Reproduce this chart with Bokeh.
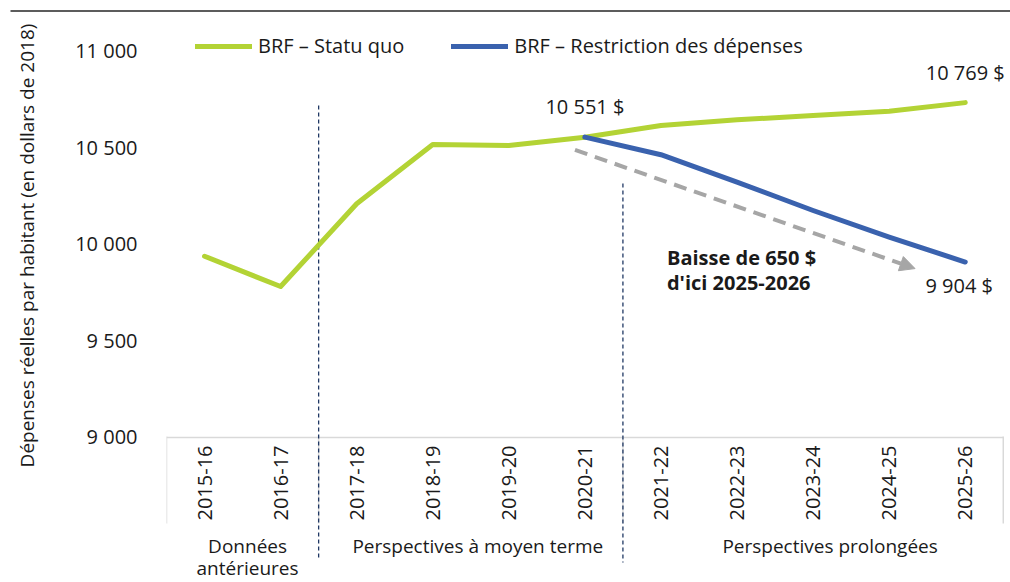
import math
from bokeh.plotting import figure
from bokeh.layouts import row, column
from bokeh.models import Range1d, FixedTicker, Label, Arrow, NormalHead
from bokeh.core.properties import value
from bokeh.embed import file_html
from bokeh.resources import INLINE

# ---------------- data ----------------
years = ["2015-16", "2016-17", "2017-18", "2018-19", "2019-20", "2020-21",
         "2021-22", "2022-23", "2023-24", "2024-25", "2025-26"]
statu_quo = [9934, 9777, 10206, 10513, 10508, 10551, 10611, 10641, 10663, 10685, 10730]
restriction_years = ["2020-21", "2021-22", "2022-23", "2023-24", "2024-25", "2025-26"]
restriction = [10551, 10460, 10318, 10171, 10033, 9904]
series_names = ["BRF – Statu quo", "BRF – Restriction des dépenses"]
groups = ["Données\nantérieures", "Perspectives à moyen terme", "Perspectives prolongées"]
group_sizes = [2, 4, 5]
y_ticks = [9000, 9500, 10000, 10500, 11000]
y_tick_labels = ["9 000", "9 500", "10 000", "10 500", "11 000"]
point_labels = ["10 551 $", "10 769 $", "9 904 $"]
note_lines = ["Baisse de 650 $", "d'ici 2025-2026"]
y_title = "Dépenses réelles par habitant (en dollars de 2018)"

# ---------------- style ----------------
FONT = "Open Sans"
TEXT = "#1a1a1a"
GREEN = "#B3D335"
BLUE = "#3A62AE"
GREY_ARROW = "#A6A6A6"
NAVY = "#203864"
AXIS_GREY = "#D9D9D9"
RULE = "#262626"

W, H = 1010, 582
STRIP_W = 50          # left strip holding the y title
HEAD_H = 12           # header strip holding the top rule
MAIN_H = H - HEAD_H
AXIS_W = 116          # y axis panel width inside the main figure
PX = 2000 / 386       # value units per pixel on the y scale
Y0, Y1 = 9000, 11000
BELOW = 146           # pixels of category band below the 9 000 line
ABOVE = 50 - HEAD_H   # pixels above the 11 000 line inside the main frame

xi = {y: i for i, y in enumerate(years)}


def base_fig(w, h, xr, yr, left=0):
    f = figure(width=w, height=h, output_backend="svg", toolbar_location=None,
               x_range=xr, y_range=yr, x_axis_location=None, y_axis_location=None,
               min_border_left=left, min_border_right=0, min_border_top=0, min_border_bottom=0,
               outline_line_color=None, background_fill_color="white", border_fill_color="white",
               frame_align=False)
    f.grid.visible = False
    return f


# ---------------- header: top rule ----------------
head = base_fig(W, HEAD_H, Range1d(0, W), Range1d(HEAD_H, 0))
head.segment(x0=[10], y0=[10.5], x1=[W], y1=[10.5], line_color=RULE, line_width=1.5)

# ---------------- left strip: y title ----------------
strip = base_fig(STRIP_W, MAIN_H, Range1d(0, STRIP_W), Range1d(H, HEAD_H))
strip.text(x=[26], y=[245], text=[y_title], angle=math.pi / 2, text_align="center",
           text_baseline="middle", text_font=value(FONT), text_font_size=value("19px"),
           text_color=TEXT)

# ---------------- main chart ----------------
p = figure(width=W - STRIP_W, height=MAIN_H, output_backend="svg", toolbar_location=None,
           x_range=Range1d(-0.5, 10.595), y_range=Range1d(Y0 - BELOW * PX, Y1 + ABOVE * PX),
           x_axis_location=None,
           min_border_left=AXIS_W, min_border_right=0, min_border_top=0, min_border_bottom=0,
           outline_line_color=None, background_fill_color="white", border_fill_color="white",
           frame_align=False)
p.grid.visible = False

yax = p.yaxis[0]
yax.ticker = FixedTicker(ticks=y_ticks)
yax.major_label_overrides = dict(zip(y_ticks, y_tick_labels))
yax.axis_line_color = None
yax.major_tick_line_color = None
yax.minor_tick_line_color = None
yax.major_tick_out = 0
yax.major_label_standoff = 29
yax.major_label_text_font = FONT
yax.major_label_text_font_size = "20px"
yax.major_label_text_color = TEXT

# category band: axis line, group boxes, period separators
edges = [-0.5]
for s in group_sizes:
    edges.append(edges[-1] + s)
p.segment(x0=[edges[0]], y0=[Y0 - 1 * PX], x1=[edges[-1]], y1=[Y0 - 1 * PX],
          line_color=AXIS_GREY, line_width=1.5)
p.segment(x0=edges, y0=[Y0] * len(edges), x1=edges, y1=[Y0 - 87 * PX] * len(edges),
          line_color=AXIS_GREY, line_width=1.5)
dash_x = edges[1:3]
dash_tops = [10715, 10311]
dash_bottoms = [Y0 - 121 * PX, Y0 - 126 * PX]
p.segment(x0=dash_x, y0=dash_tops, x1=dash_x, y1=dash_bottoms,
          line_color=NAVY, line_width=1.3, line_dash="4 3")

# category labels
p.text(x=[xi[y] for y in years], y=[Y0 - 9 * PX] * len(years), text=years,
       angle=math.pi / 2, text_align="right", text_baseline="middle",
       text_font=value(FONT), text_font_size=value("20px"), text_color=TEXT)

gx, gy, gt = [], [], []
group_x_offsets = [5, 7, 17]
for g, a, b, dx in zip(groups, edges[:-1], edges[1:], group_x_offsets):
    for k, line in enumerate(g.split("\n")):
        gx.append((a + b) / 2 + dx / 76.07)
        gy.append(Y0 - (109 + 22 * k) * PX)
        gt.append(line)
p.text(x=gx, y=gy, text=gt, text_align="center", text_baseline="alphabetic",
       text_font=value(FONT), text_font_size=value("19px"), text_color=TEXT)

# series
p.line(x=[xi[y] for y in years], y=statu_quo, line_color=GREEN, line_width=5,
       line_join="round", line_cap="round", legend_label=series_names[0])
p.line(x=[xi[y] for y in restriction_years], y=restriction, line_color=BLUE, line_width=5,
       line_join="round", line_cap="round", legend_label=series_names[1])

leg = p.legend[0]
leg.orientation = "horizontal"
leg.location = (29, MAIN_H - (45 - HEAD_H) - 14)
leg.glyph_width = 57
leg.label_standoff = 6
leg.spacing = 47
leg.padding = 0
leg.margin = 0
leg.border_line_color = None
leg.background_fill_alpha = 0
leg.label_text_font = FONT
leg.label_text_font_size = "20px"
leg.label_text_color = TEXT


def lab(text, x, y, size="20px", style="normal", **kw):
    p.add_layout(Label(x=x, y=y, text=text, text_font=FONT, text_font_size=size,
                       text_font_style=style, text_color=TEXT, **kw))


lab(point_labels[0], xi["2020-21"], statu_quo[xi["2020-21"]], text_align="center",
    text_baseline="middle", y_offset=31)
lab(point_labels[1], xi["2025-26"], statu_quo[-1], text_align="center",
    text_baseline="middle", y_offset=30)
lab(point_labels[2], xi["2025-26"], restriction[-1], text_align="center",
    text_baseline="middle", y_offset=-23, x_offset=-6)

note_x, note_y = xi["2021-22"], 9930
for k, line in enumerate(note_lines):
    lab(line, note_x, note_y, style="bold", text_align="left", text_baseline="middle",
        x_offset=6, y_offset=-25 * k)

p.add_layout(Arrow(x_start=4.87, y_start=10485, x_end=9.34, y_end=9870,
                   line_color=GREY_ARROW, line_width=4, line_dash="13 8",
                   end=NormalHead(size=15, fill_color=GREY_ARROW, line_color=GREY_ARROW)))

layout = column(head, row(strip, p))
open("out.html", "w", encoding="utf-8").write(file_html(layout, INLINE))
